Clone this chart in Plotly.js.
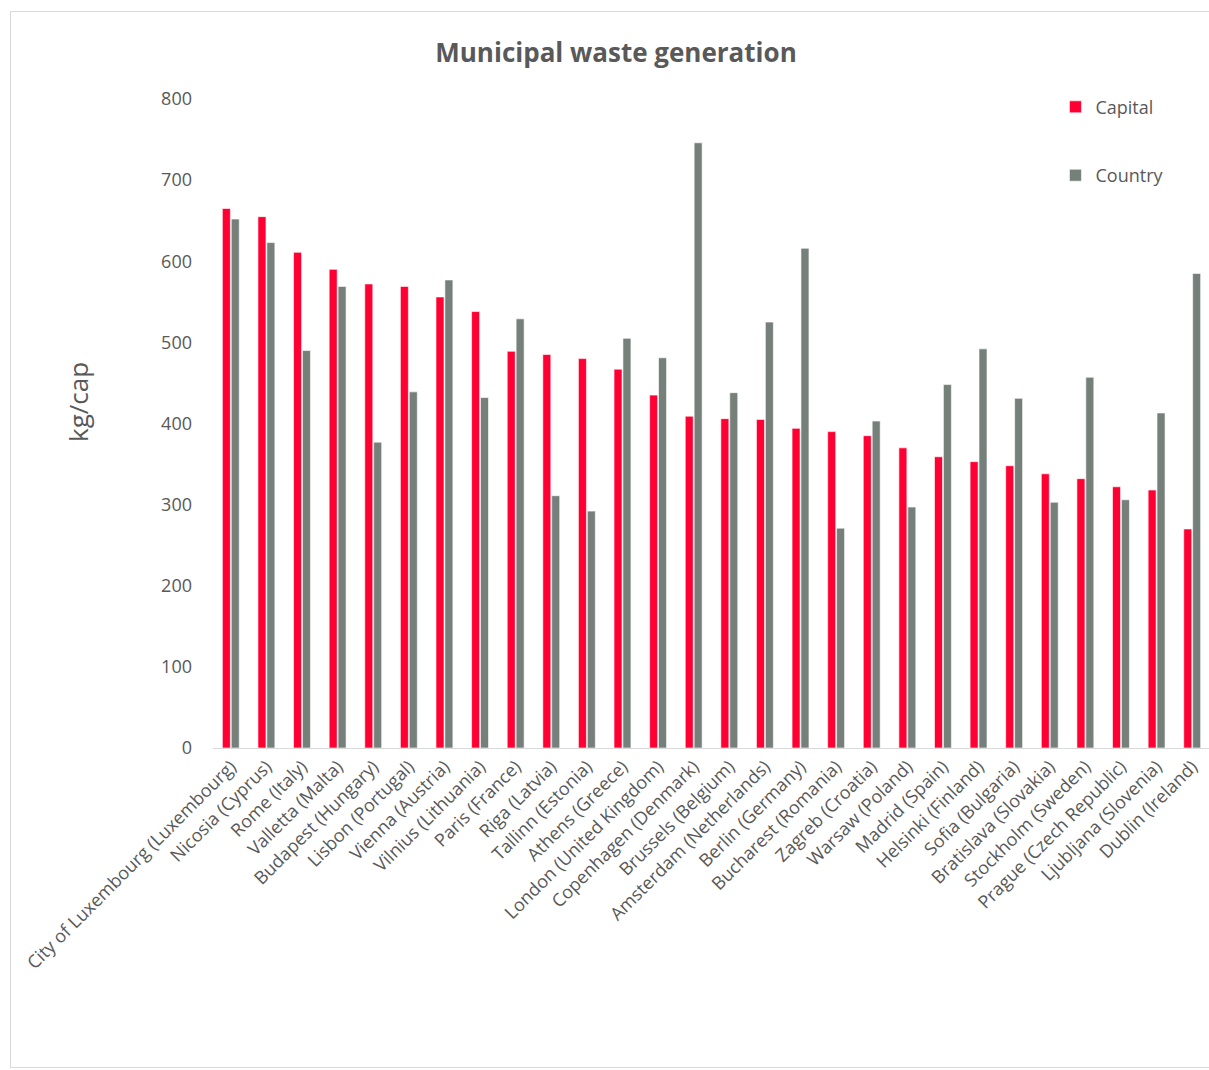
<!DOCTYPE html>
<html>
<head>
<meta charset="utf-8">
<script src="https://cdn.plot.ly/plotly-3.0.1.min.js"></script>
<style>
  html, body { margin: 0; padding: 0; background: #ffffff; overflow: hidden; }
  #frame { position: absolute; left: 10px; top: 11px; width: 1215px; height: 1057px;
           border: 1px solid #d9d9d9; box-sizing: border-box; }
  #chart { width: 1213px; height: 1055px; }
</style>
</head>
<body>
<div id="frame"><div id="chart"></div></div>
<script>
const cities = [
  "City of Luxembourg (Luxembourg)", "Nicosia (Cyprus)", "Rome (Italy)", "Valletta (Malta)",
  "Budapest (Hungary)", "Lisbon (Portugal)", "Vienna (Austria)", "Vilnius (Lithuania)",
  "Paris (France)", "Riga (Latvia)", "Tallinn (Estonia)", "Athens (Greece)",
  "London (United Kingdom)", "Copenhagen (Denmark)", "Brussels (Belgium)", "Amsterdam (Netherlands)",
  "Berlin (Germany)", "Bucharest (Romania)", "Zagreb (Croatia)", "Warsaw (Poland)",
  "Madrid (Spain)", "Helsinki (Finland)", "Sofia (Bulgaria)", "Bratislava (Slovakia)",
  "Stockholm (Sweden)", "Prague (Czech Republic)", "Ljubljana (Slovenia)", "Dublin (Ireland)"
];
const capital = [665, 655, 611, 590, 572, 569, 556, 538, 489, 485, 480, 467, 435, 409,
                 406, 405, 394, 390, 385, 370, 359, 353, 348, 338, 332, 322, 318, 270];
const country = [652, 623, 490, 569, 377, 439, 577, 432, 529, 311, 292, 505, 481, 746,
                 438, 525, 616, 271, 403, 297, 448, 492, 431, 303, 457, 306, 413, 585];
const yTicks = [0, 100, 200, 300, 400, 500, 600, 700, 800];

const txt = "#595959";
const font = "Open Sans, Lato, sans-serif";

const traces = [
  { type: "bar", name: "Capital", x: cities, y: capital, legendgroup: "a",
    marker: { color: "#ff0033", line: { color: "#ffffff", width: 0.6 } } },
  { type: "bar", name: "Country", x: cities, y: country, legendgroup: "b",
    marker: { color: "#76807b", line: { color: "#ffffff", width: 0.6 } } }
];

const layout = {
  width: 1213, height: 1055,
  margin: { l: 202, r: 14, t: 87, b: 319 },
  paper_bgcolor: "#ffffff", plot_bgcolor: "#ffffff",
  font: { family: font, color: txt },
  title: { text: "<b>Municipal waste generation</b>", x: (616 - 11) / 1213, xref: "container",
           xanchor: "center",
           y: 1 - 41/1055, yref: "container", yanchor: "middle",
           font: { family: font, size: 26, color: txt } },
  barmode: "group", bargap: 0.5, bargroupgap: 0.1,
  xaxis: {
    type: "category", tickangle: -45, tickfont: { size: 18, color: txt },
    showline: true, linecolor: "#d9d9d9", linewidth: 1, showgrid: false,
    ticks: "", zeroline: false, automargin: false
  },
  yaxis: {
    range: [0, 800], tickvals: yTicks, ticktext: yTicks.map(String),
    tickfont: { size: 18, color: txt }, showgrid: false, zeroline: false,
    showline: false, ticks: "", ticklabelstandoff: 20,
    automargin: false
  },
  annotations: [{
    text: "kg/cap", textangle: -90, showarrow: false,
    xref: "paper", x: 0, xanchor: "center", xshift: -135,
    yref: "paper", y: (748 - 402) / 649, yanchor: "middle",
    font: { size: 26, color: txt, family: font }
  }],
  legend: {
    x: 0.845, xanchor: "left", y: 1.016, yanchor: "top",
    font: { size: 18, color: txt }, tracegroupgap: 42, itemwidth: 30,
    traceorder: "grouped", bgcolor: "rgba(0,0,0,0)"
  },
  showlegend: true
};

Plotly.newPlot("chart", traces, layout, { displayModeBar: false, staticPlot: true });
</script>
</body>
</html>
